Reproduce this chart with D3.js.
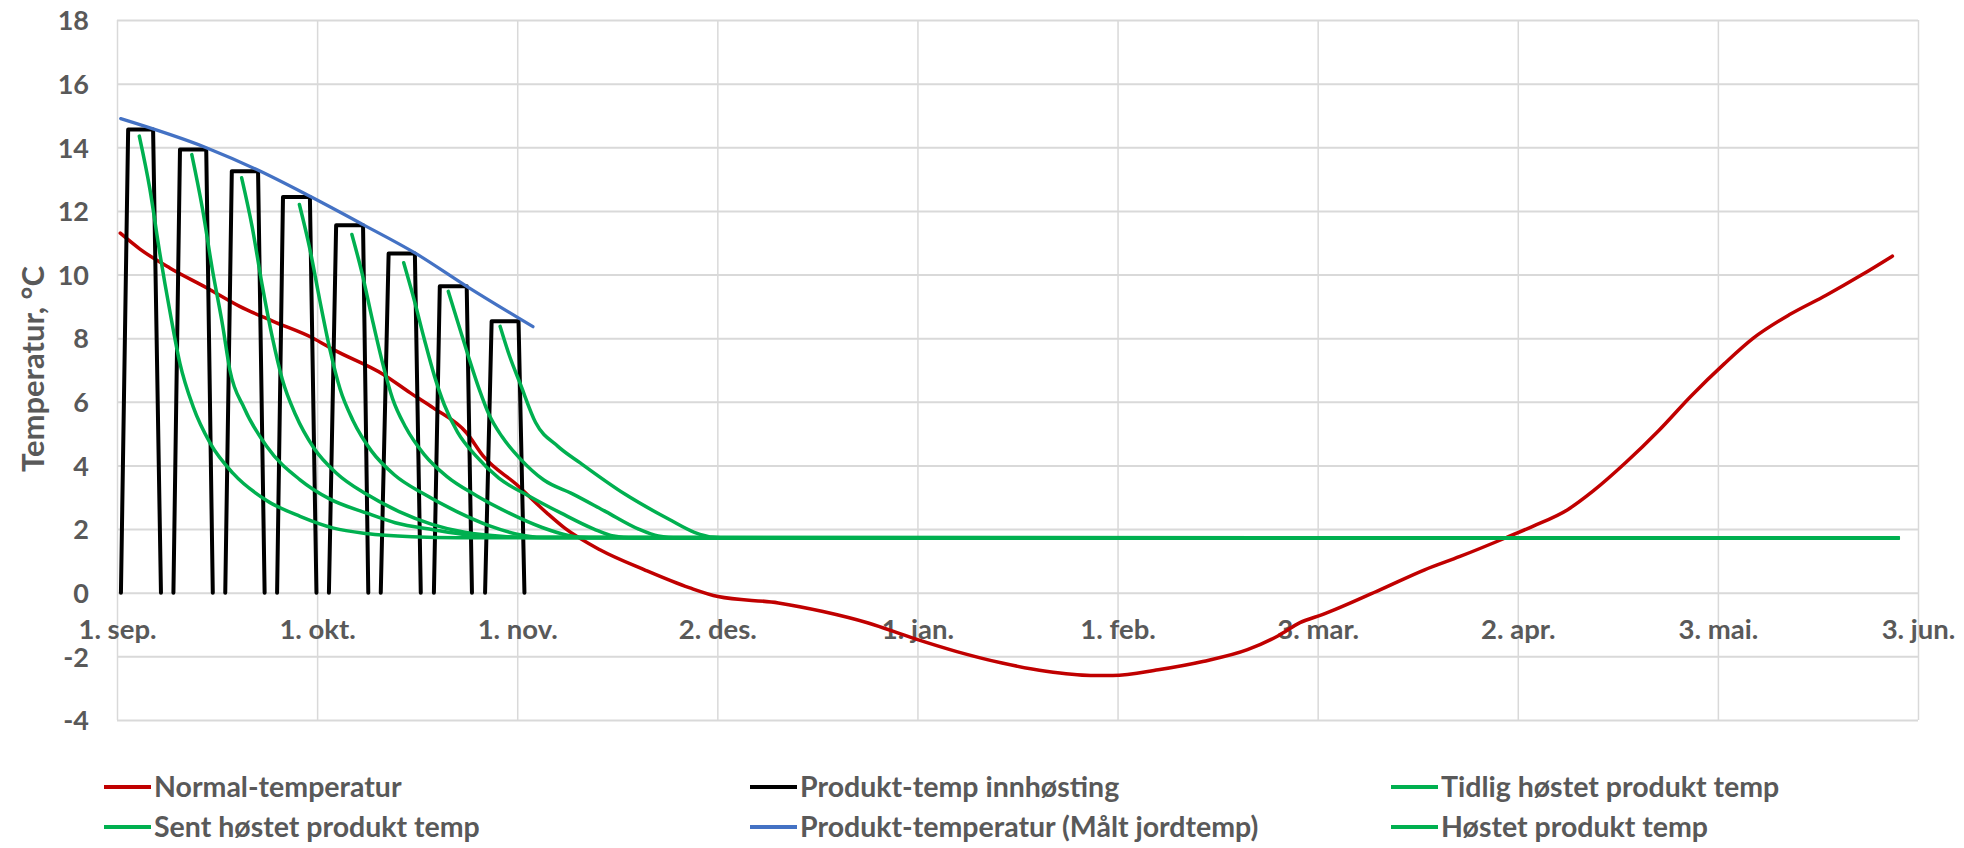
<!DOCTYPE html>
<html><head><meta charset="utf-8">
<script src="https://cdn.jsdelivr.net/npm/d3@7"></script>
<style>
body{margin:0;background:#fff;}
svg{display:block;}
</style></head><body>
<svg id="chart" width="1964" height="848"></svg>
<script>
// ---------- DATA (x = days after 1. sep., y = °C) ----------
const xTickLabels = ["1. sep.","1. okt.","1. nov.","2. des.","1. jan.","1. feb.","3. mar.","2. apr.","3. mai.","3. jun."];
const yTickValues = [-4,-2,0,2,4,6,8,10,12,14,16,18];
const seriesNames = ["Normal-temperatur","Produkt-temp innhøsting","Tidlig høstet produkt temp","Sent høstet produkt temp","Produkt-temperatur (Målt jordtemp)","Høstet produkt temp"];
const seriesColors = ["#C00000","#000000","#00B050","#00B050","#4472C4","#00B050"];

const normalTemp = [[0.5,11.3],[3.5,10.8],[8.1,10.2],[13.7,9.58],[18.7,9.0],[23.8,8.53],[29.9,8.0],[33,7.64],[40.6,6.86],[44.7,6.28],[48.2,5.81],[53.3,5.02],[55.8,4.3],[60.9,3.4],[65.5,2.51],[68.3,2.02],[73.6,1.35],[80.4,0.72],[87.2,0.16],[91.6,-0.12],[100.8,-0.32],[107.6,-0.59],[114.5,-0.95],[121.2,-1.42],[128,-1.85],[134.9,-2.21],[141.6,-2.47],[148.4,-2.6],[151.8,-2.6],[158.7,-2.42],[165.5,-2.16],[172.3,-1.79],[177,-1.35],[180.3,-0.94],[183.7,-0.69],[192.5,0.09],[199.3,0.72],[204.7,1.14],[211.6,1.72],[215.7,2.08],[221.1,2.61],[225,3.2],[230,4.1],[235,5.1],[240,6.2],[245,7.2],[249.4,8.0],[255,8.75],[260.5,9.35],[266,10.0],[270.6,10.58]];

const harvestPulses = [
  [[0.6,0],[1.7,14.56],[5.5,14.56],[6.7,0]],
  [[8.6,0],[9.6,13.93],[13.6,13.93],[14.6,0]],
  [[16.5,0],[17.5,13.25],[21.5,13.25],[22.5,0]],
  [[24.4,0],[25.3,12.44],[29.4,12.44],[30.4,0]],
  [[32.3,0],[33.4,11.55],[37.5,11.55],[38.3,0]],
  [[40.2,0],[41.4,10.66],[45.4,10.66],[46.3,0]],
  [[48.3,0],[49.2,9.63],[53.3,9.63],[54.1,0]],
  [[56.1,0],[57.1,8.53],[61.2,8.53],[62.1,0]]
];

const soilTemp = [[0.56,14.9],[13.7,13.98],[21.3,13.3],[29.4,12.46],[37.5,11.57],[45.4,10.68],[53.3,9.63],[63.4,8.36]];

const earlyProduct = [[3.4,14.35],[5.0,12.7],[6.5,10.7],[8.1,8.8],[9.6,7.2],[11.6,5.85],[14.2,4.7],[17.7,3.75],[22.8,2.9],[27.9,2.4],[33,2.03],[38,1.86],[45,1.76],[52,1.73],[271.5,1.72]];
const lateProduct = [[58.4,8.37],[59.9,7.4],[61.4,6.6],[63.8,5.35],[67.2,4.6],[70.6,4.08],[77.4,3.1],[84.2,2.3],[88,1.9],[91,1.74],[93,1.72],[271.5,1.72]];
const harvestedProduct = [
  [[11.4,13.77],[13.0,12.1],[14.5,10.2],[16.1,8.4],[17.2,7.0],[19.4,5.8],[22.8,4.6],[27.9,3.55],[32.4,2.95],[38.1,2.5],[42.4,2.2],[48.2,1.98],[53.4,1.82],[61.4,1.74],[271.5,1.72]],
  [[19.0,13.04],[20.6,11.5],[22.1,9.7],[23.7,8.0],[25.2,6.7],[27.2,5.6],[30,4.55],[33.5,3.75],[38,3.1],[43,2.55],[48,2.15],[53,1.9],[59,1.77],[65,1.73],[271.5,1.72]],
  [[27.8,12.2],[29.4,10.8],[30.9,9.2],[32.5,7.6],[34,6.4],[36,5.4],[38.8,4.45],[42.3,3.7],[46.8,3.1],[51.8,2.55],[56.8,2.1],[60.8,1.85],[64.8,1.74],[271.5,1.72]],
  [[35.8,11.26],[37.4,10.0],[38.9,8.6],[40.5,7.2],[42,6.1],[44,5.2],[46.8,4.35],[50.3,3.65],[54.8,3.05],[59.8,2.5],[64.8,2.05],[68.8,1.8],[71.8,1.73],[271.5,1.72]],
  [[43.7,10.37],[45.3,9.2],[46.8,8.0],[48.4,6.8],[49.9,5.9],[51.9,5.05],[54.7,4.3],[58.2,3.6],[62.7,3.05],[67.7,2.5],[72.7,2.0],[75.7,1.78],[78.7,1.72],[271.5,1.72]],
  [[50.5,9.47],[52.1,8.4],[53.6,7.4],[55.2,6.4],[56.7,5.6],[58.7,4.9],[61.5,4.2],[65,3.55],[69.5,3.1],[74.5,2.55],[79.5,2.0],[82.5,1.78],[85.5,1.72],[271.5,1.72]]
];

// ---------- LAYOUT ----------
const FONT = "Lato, 'Open Sans', sans-serif";
const TXT = "#595959";
const GRID = "#d9d9d9";
const plot = {left:117, right:1918, top:20, bottom:720};
const majorUnit = 30.5;
const xMax = majorUnit*(xTickLabels.length-1);

const svg = d3.select("#chart");
const x = d3.scaleLinear().domain([0,xMax]).range([plot.left,plot.right]);
const y = d3.scaleLinear().domain([-4,18]).range([plot.bottom,plot.top]);
const xTickValues = xTickLabels.map((d,i)=>i*majorUnit);

// horizontal gridlines + y labels
const gy = svg.append("g").attr("transform",`translate(${plot.left},0)`)
  .call(d3.axisLeft(y).tickValues(yTickValues).tickSize(-(plot.right-plot.left)).tickPadding(28).tickFormat(d=>String(d)));
gy.select(".domain").remove();
gy.selectAll("line").attr("stroke",GRID).attr("stroke-width",2);
gy.selectAll("text").attr("fill",TXT).attr("font-family",FONT).attr("font-weight",700).attr("font-size",27).attr("dy","0.36em");

// vertical gridlines
const gxg = svg.append("g").attr("transform",`translate(0,${plot.bottom})`)
  .call(d3.axisBottom(x).tickValues(xTickValues).tickSize(-(plot.bottom-plot.top)).tickFormat(""));
gxg.select(".domain").remove();
gxg.selectAll("line").attr("stroke",GRID).attr("stroke-width",1.5);

// x labels next to the 0 axis
const gx = svg.append("g").attr("transform",`translate(0,${y(0)})`)
  .call(d3.axisBottom(x).tickValues(xTickValues).tickSize(0).tickPadding(27).tickFormat((d,i)=>xTickLabels[i]));
gx.select(".domain").remove();
gx.selectAll("text").attr("fill",TXT).attr("font-family",FONT).attr("font-weight",700).attr("font-size",27.5);

// y-axis title
svg.append("text").attr("transform",`translate(44,369) rotate(-90)`)
  .attr("text-anchor","middle").attr("fill",TXT).attr("font-family",FONT).attr("font-weight",700).attr("font-size",31)
  .text("Temperatur, °C");

// ---------- SERIES ----------
const line = d3.line().x(d=>x(d[0])).y(d=>y(d[1]));
const smooth = d3.line().x(d=>x(d[0])).y(d=>y(d[1])).curve(d3.curveMonotoneX);
const gs = svg.append("g").attr("fill","none").attr("stroke-linejoin","round").attr("stroke-linecap","round");

gs.append("path").attr("d",smooth(normalTemp)).attr("stroke",seriesColors[0]).attr("stroke-width",3.5);
gs.selectAll(".pulse").data(harvestPulses).join("path").attr("class","pulse")
  .attr("d",line).attr("stroke",seriesColors[1]).attr("stroke-width",4);
gs.append("path").attr("d",smooth(earlyProduct)).attr("stroke",seriesColors[2]).attr("stroke-width",3.5);
gs.append("path").attr("d",smooth(lateProduct)).attr("stroke",seriesColors[3]).attr("stroke-width",3.5);
gs.append("path").attr("d",smooth(soilTemp)).attr("stroke",seriesColors[4]).attr("stroke-width",3.2);
gs.selectAll(".harv").data(harvestedProduct).join("path").attr("class","harv")
  .attr("d",smooth).attr("stroke",seriesColors[5]).attr("stroke-width",3.5);

// ---------- LEGEND ----------
const legendCols = [104, 750, 1391];
const legendRows = [787, 827];
const lg = svg.append("g");
seriesNames.forEach((name,i)=>{
  const cx = legendCols[i%3], cy = legendRows[Math.floor(i/3)];
  lg.append("line").attr("x1",cx).attr("x2",cx+47).attr("y1",cy).attr("y2",cy)
    .attr("stroke",seriesColors[i]).attr("stroke-width",4);
  lg.append("text").attr("x",cx+50).attr("y",cy).attr("dy","0.36em")
    .attr("fill",TXT).attr("font-family",FONT).attr("font-weight",700).attr("font-size",28.5).text(name);
});
</script>
</body></html>
